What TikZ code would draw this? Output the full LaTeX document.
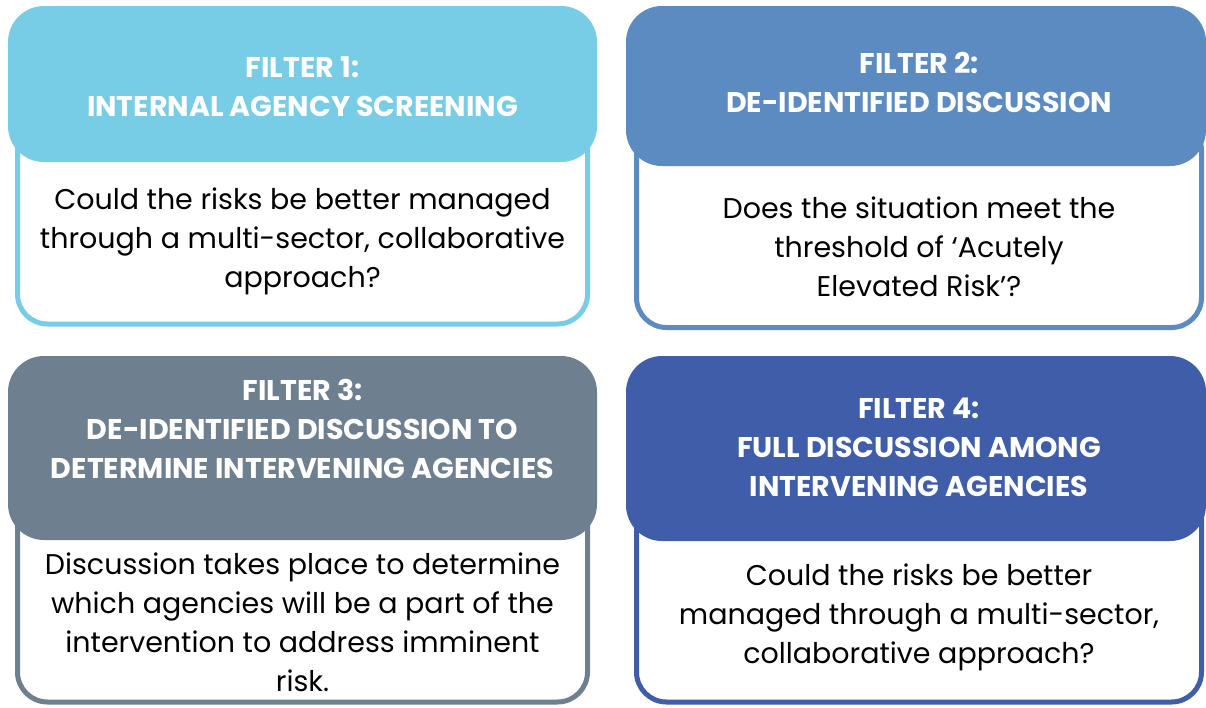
\documentclass[tikz,border=0pt]{standalone}
\usepackage{fontspec}
\setmainfont{Poppins}
\definecolor{cA}{HTML}{77CDE6}
\definecolor{cB}{HTML}{5B8BC1}
\definecolor{cC}{HTML}{6E7F8F}
\definecolor{cD}{HTML}{3F5DA8}
\tikzset{
  frame/.style={draw=#1, fill=white, line width=5pt, rounded corners=30pt, inner sep=0pt},
  header/.style={fill=#1, draw=none, rounded corners=36pt, inner sep=0pt},
  headtext/.style={text=white, align=center, font=\fontsize{28.5}{39}\selectfont\bfseries, inner sep=0pt},
  bodytext/.style={text=black, align=center, font=\fontsize{28.5}{39}\selectfont, inner sep=0pt}
}
\begin{document}
\begin{tikzpicture}[x=1pt,y=-1pt]
\path[use as bounding box] (0,0) rectangle (1206,707);
% Box 1
\node[frame=cA, minimum width=570pt, minimum height=204pt] (f1) at (302.5,222) {};
\node[header=cA, minimum width=589pt, minimum height=156pt] (h1) at (302.5,84) {};
\node[headtext] (t1) at (302.5,87) {FILTER 1:\\INTERNAL AGENCY SCREENING};
\node[bodytext] (b1) at (302.5,241) {Could the risks be better managed\\through a multi-sector, collaborative\\approach?};
% Box 2
\node[frame=cB, minimum width=565pt, minimum height=207pt] (f2) at (919,224) {};
\node[header=cB, minimum width=580pt, minimum height=160pt] (h2) at (916,86) {};
\node[headtext] (t2) at (919,82.5) {FILTER 2:\\DE-IDENTIFIED DISCUSSION};
\node[bodytext] (b2) at (919,247) {Does the situation meet the\\threshold of ‘Acutely\\Elevated Risk’?};
% Box 3
\node[frame=cC, minimum width=570pt, minimum height=222pt] (f3) at (302.5,591) {};
\node[header=cC, minimum width=589pt, minimum height=184pt] (h3) at (302.5,448) {};
\node[headtext] (t3) at (302.5,429) {FILTER 3:\\DE-IDENTIFIED DISCUSSION TO\\DETERMINE INTERVENING AGENCIES};
\node[bodytext] (b3) at (302.5,622.5) {Discussion takes place to determine\\which agencies will be a part of the\\intervention to address imminent\\risk.};
% Box 4
\node[frame=cD, minimum width=565pt, minimum height=222pt] (f4) at (919,591) {};
\node[header=cD, minimum width=580pt, minimum height=185pt] (h4) at (916,448.5) {};
\node[headtext] (t4) at (919,447) {FILTER 4:\\FULL DISCUSSION AMONG\\INTERVENING AGENCIES};
\node[bodytext] (b4) at (919,617) {Could the risks be better\\managed through a multi-sector,\\collaborative approach?};
\end{tikzpicture}
\end{document}
